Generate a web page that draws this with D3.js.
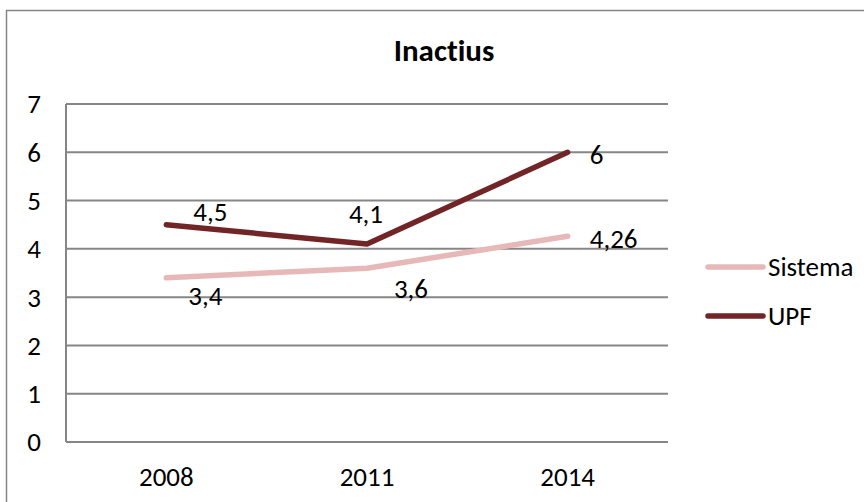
<!DOCTYPE html>
<html>
<head>
<meta charset="utf-8">
<script src="https://cdn.jsdelivr.net/npm/d3@7"></script>
<style>
  body { margin: 0; background: #fff; }
  svg { display: block; font-family: Carlito, "Open Sans", "Noto Sans", sans-serif; font-variant-ligatures: none; }
</style>
</head>
<body>
<svg id="chart"></svg>
<script>
// chart values
const years = ["2008", "2011", "2014"];
const sistema = [3.4, 3.6, 4.26];
const upf = [4.5, 4.1, 6];
const yTicks = [0, 1, 2, 3, 4, 5, 6, 7];
const seriesNames = ["Sistema", "UPF"];
const seriesColors = ["#e6b9b8", "#722526"];

const width = 864, height = 502;
const margin = { top: 104, right: 196, bottom: 60, left: 66 };
const fontSize = 27;

const svg = d3.select("#chart").attr("width", width).attr("height", height);

// outer frame (runs off the right/bottom edges like the screenshot)
svg.append("rect")
  .attr("x", 6.5).attr("y", 10.5)
  .attr("width", 900).attr("height", 600)
  .attr("fill", "none").attr("stroke", "#868686").attr("stroke-width", 1.5);

const x = d3.scaleBand().domain(years)
  .range([margin.left, width - margin.right]);
const y = d3.scaleLinear().domain([0, 7])
  .range([height - margin.bottom, margin.top]);

// gridlines
svg.append("g")
  .selectAll("line")
  .data(yTicks)
  .join("line")
  .attr("x1", margin.left).attr("x2", width - margin.right)
  .attr("y1", d => y(d)).attr("y2", d => y(d))
  .attr("stroke", "#868686").attr("stroke-width", 2);

// y axis line
svg.append("line")
  .attr("x1", margin.left).attr("x2", margin.left)
  .attr("y1", y(0)).attr("y2", y(7))
  .attr("stroke", "#868686").attr("stroke-width", 2);

// y labels
svg.append("g")
  .selectAll("text")
  .data(yTicks)
  .join("text")
  .attr("x", 34).attr("y", d => y(d))
  .attr("dy", "0.35em")
  .attr("text-anchor", "middle")
  .attr("font-size", fontSize)
  .text(d => d);

// x labels
svg.append("g")
  .selectAll("text")
  .data(years)
  .join("text")
  .attr("x", d => x(d) + x.bandwidth() / 2)
  .attr("y", 477)
  .attr("dy", "0.35em")
  .attr("text-anchor", "middle")
  .attr("font-size", fontSize)
  .text(d => d);

// title
svg.append("text")
  .attr("x", 444).attr("y", 61)
  .attr("text-anchor", "middle")
  .attr("font-size", 31).attr("font-weight", "bold")
  .text("Inactius");

const line = d3.line()
  .x((d, i) => x(years[i]) + x.bandwidth() / 2)
  .y(d => y(d));

const series = [sistema, upf];
svg.append("g")
  .selectAll("path")
  .data(series)
  .join("path")
  .attr("d", d => line(d))
  .attr("fill", "none")
  .attr("stroke", (d, i) => seriesColors[i])
  .attr("stroke-width", 5.5)
  .attr("stroke-linecap", "round")
  .attr("stroke-linejoin", "round");

// data labels, centre offsets relative to each point
const labelOffsets = [
  [[39, 18], [44, 20], [46, 2]],
  [[44, -13], [-1, -30], [29, 2]]
];
const fmt = v => String(v).replace(".", ",");
series.forEach((s, si) => {
  svg.append("g")
    .selectAll("text")
    .data(s)
    .join("text")
    .attr("x", (d, i) => x(years[i]) + x.bandwidth() / 2 + labelOffsets[si][i][0])
    .attr("y", (d, i) => y(d) + labelOffsets[si][i][1])
    .attr("dy", "0.35em")
    .attr("text-anchor", "middle")
    .attr("font-size", fontSize)
    .text(d => fmt(d));
});

// legend
const legend = svg.append("g")
  .selectAll("g")
  .data(seriesNames)
  .join("g")
  .attr("transform", (d, i) => `translate(708, ${267 + i * 49})`);
legend.append("line")
  .attr("x1", 0).attr("x2", 55)
  .attr("stroke", (d, i) => seriesColors[i])
  .attr("stroke-width", 5.5)
  .attr("stroke-linecap", "round");
legend.append("text")
  .attr("x", 60).attr("dy", "0.35em")
  .attr("font-size", fontSize)
  .text(d => d);
</script>
</body>
</html>
